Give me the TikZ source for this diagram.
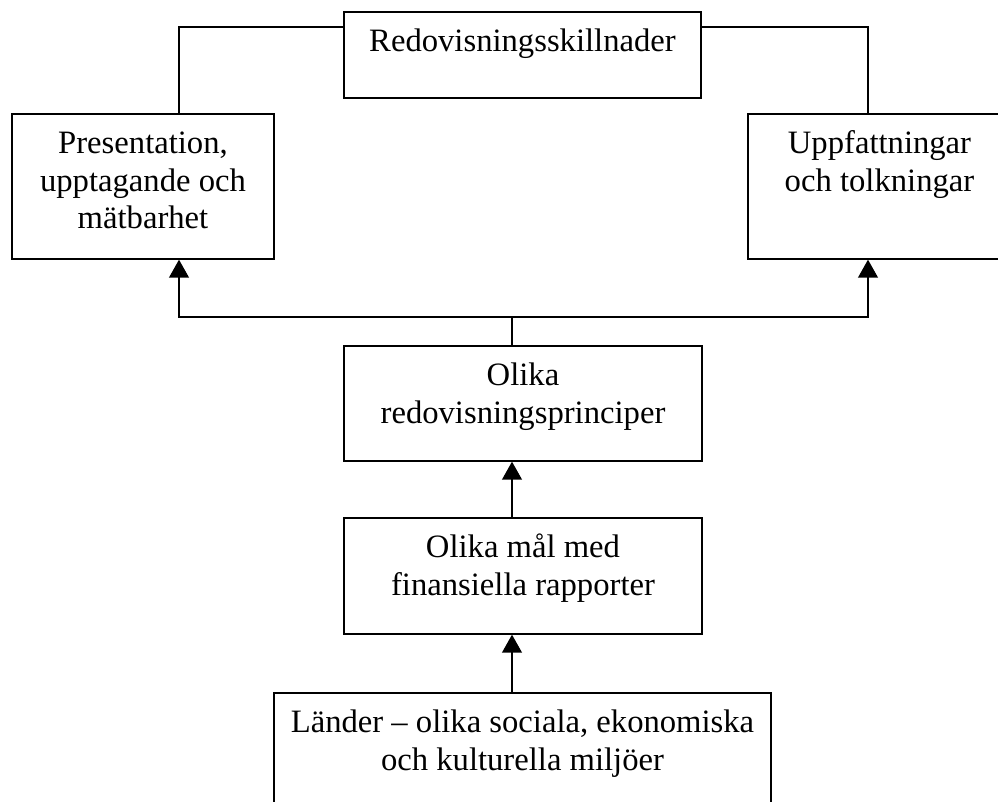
\documentclass[tikz,border=0pt]{standalone}
\usepackage{fontspec}
\setmainfont{Liberation Serif}
\usetikzlibrary{arrows.meta}
\newcommand{\pxu}{0.3675pt}
\begin{document}
\begin{tikzpicture}[x=0.3675pt,y=-0.3675pt,
  boxst/.style={draw, line width=0.5pt, inner sep=0pt},
  txt/.style={anchor=north, align=center, inner sep=0pt, yshift=-13.7*\pxu,
    font=\fontsize{12}{13.8}\selectfont},
  conn/.style={line width=0.5pt},
  arr/.style={line width=0.5pt, -{Triangle[width=7.3pt,length=6.6pt]}}]
\useasboundingbox (0,0) rectangle (998,802);
\clip (0,0) rectangle (998,802);
\fill[white] (0,0) rectangle (998,802);
% boxes
\node[boxst, minimum width=357*\pxu, minimum height=86*\pxu] (top) at (522.5,55) {};
\node[boxst, minimum width=262*\pxu, minimum height=145*\pxu] (left) at (143,186.5) {};
\node[boxst, minimum width=263*\pxu, minimum height=145*\pxu] (right) at (879.5,186.5) {};
\node[boxst, minimum width=358*\pxu, minimum height=115*\pxu] (mid1) at (523,403.5) {};
\node[boxst, minimum width=358*\pxu, minimum height=116*\pxu] (mid2) at (523,576) {};
\node[boxst, minimum width=497*\pxu, minimum height=137*\pxu] (bot) at (522.5,761.5) {};
% texts
\node[txt] (ttop) at (top.north) {\strut Redovisningsskillnader};
\node[txt] (tleft) at (left.north) {\strut Presentation,\\upptagande och\\mätbarhet};
\node[txt] (tright) at (right.north) {\strut Uppfattningar\\och tolkningar};
\node[txt] (tmid1) at (mid1.north) {\strut Olika\\redovisningsprinciper};
\node[txt] (tmid2) at (mid2.north) {\strut Olika mål med\\finansiella rapporter};
\node[txt] (tbot) at (bot.north) {\strut Länder – olika sociala, ekonomiska\\och kulturella miljöer};
% helper coordinates
\coordinate (j) at (512,317);
\coordinate (lx) at (179,0);
\coordinate (rx) at (868,0);
\coordinate (ty) at (0,27);
% connectors
\draw[conn] (top.west |- ty) -| (left.north -| lx);
\draw[conn] (top.east |- ty) -| (right.north -| rx);
\draw[conn] (mid1.north -| j) -- (j);
\draw[arr] (j) -| (left.south -| lx);
\draw[arr] (j) -| (right.south -| rx);
\draw[arr] (mid2.north -| j) -- (mid1.south -| j);
\draw[arr] (bot.north -| j) -- (mid2.south -| j);
\end{tikzpicture}
\end{document}
